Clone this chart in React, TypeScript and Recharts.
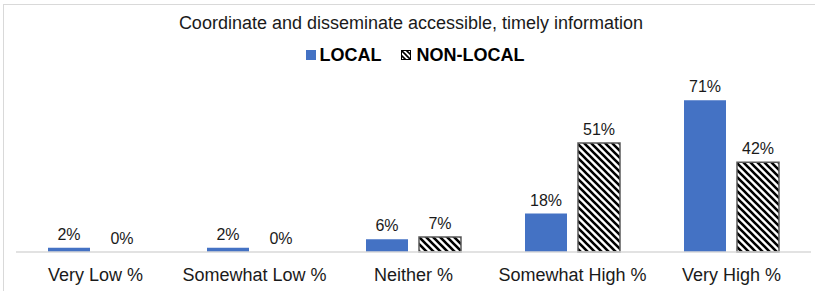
import React from "react";
import { BarChart, Bar, XAxis, YAxis, Legend, LabelList, Cell } from "recharts";

const categories = ["Very Low %", "Somewhat Low %", "Neither %", "Somewhat High %", "Very High %"];
const localValues = [2, 2, 6, 18, 71];
const nonLocalValues = [0, 0, 7, 51, 42];
const seriesNames = ["LOCAL", "NON-LOCAL"];
const title = "Coordinate and disseminate accessible, timely information";

const data = categories.map((c, i) => ({
  name: c,
  local: localValues[i],
  nonLocal: nonLocalValues[i],
}));

const FONT = "'Liberation Sans', Arial, sans-serif";
const BLUE = "#4472C4";

const HatchIcon = () => (
  <svg width={10} height={10} style={{ display: "block" }}>
    <defs>
      <pattern id="hatchIcon" patternUnits="userSpaceOnUse" width={5} height={5}>
        <rect width={5} height={5} fill="#fff" />
        <path d="M-1,-1 L6,6 M-1,4 L1,6 M4,-1 L6,1" stroke="#000" strokeWidth={1.6} />
      </pattern>
    </defs>
    <rect x={0.5} y={0.5} width={9} height={9} fill="url(#hatchIcon)" stroke="#000" strokeWidth={1} />
  </svg>
);

const LegendContent = () => (
  <div style={{ position: "relative", width: 815, height: 81, fontFamily: FONT }}>
    <div
      style={{
        position: "absolute",
        left: 0,
        top: 12,
        width: 822,
        textAlign: "center",
        fontSize: 18,
        lineHeight: "22px",
        color: "#1a1a1a",
      }}
    >
      {title}
    </div>
    <div
      style={{
        position: "absolute",
        left: 0,
        top: 44,
        width: 830,
        height: 22,
        display: "flex",
        justifyContent: "center",
        alignItems: "center",
        fontSize: 18,
        fontWeight: "bold",
        color: "#000",
      }}
    >
      <div style={{ width: 10, height: 10, background: BLUE, marginRight: 4 }} />
      <span style={{ marginRight: 19 }}>{seriesNames[0]}</span>
      <div style={{ marginRight: 6 }}>
        <HatchIcon />
      </div>
      <span>{seriesNames[1]}</span>
    </div>
  </div>
);

const fmt = (v: any) => `${v}%`;

export default function App() {
  return (
    <div style={{ position: "absolute", left: 0, top: 0, width: 815, height: 291, background: "#fff" }}>
      <div
        style={{
          position: "absolute",
          left: 3,
          top: 4,
          width: 812,
          height: 287,
          borderTop: "1.5px solid #d9d9d9",
          borderLeft: "1.5px solid #d9d9d9",
          boxSizing: "border-box",
        }}
      />
      <BarChart
        width={815}
        height={291}
        data={data}
        margin={{ top: 0, right: 4, bottom: 0, left: 16 }}
        barSize={42}
        barGap={11}
        style={{ position: "absolute", left: 0, top: 0 }}
      >
        <defs>
          <pattern id="hatch" patternUnits="userSpaceOnUse" width={7} height={7}>
            <rect width={7} height={7} fill="#fff" />
            <path d="M-1,-1 L8,8 M-1,6 L1,8 M6,-1 L8,1" stroke="#000" strokeWidth={2.6} />
          </pattern>
        </defs>
        <Legend verticalAlign="top" content={<LegendContent />} wrapperStyle={{ top: 0, left: 0, width: 815, height: 81 }} />
        <XAxis
          dataKey="name"
          axisLine={{ stroke: "#d9d9d9", strokeWidth: 1.5 }}
          tickLine={false}
          height={39}
          tickMargin={10}
          interval={0}
          tick={{ fontSize: 18, fill: "#1a1a1a", fontFamily: FONT }}
        />
        <YAxis hide domain={[0, 80]} width={0} />
        <Bar
          dataKey="local"
          name={seriesNames[0]}
          fill={BLUE}
          isAnimationActive={false}
          minPointSize={(v: any) => (v === 0 ? 0.01 : 0)}
        >
          {localValues.map((v, i) => (
            <Cell key={i} fill={v === 0 ? "none" : BLUE} />
          ))}
          <LabelList
            dataKey="local"
            position="top"
            offset={8}
            formatter={fmt}
            style={{ fontSize: 16, fill: "#1a1a1a", fontFamily: FONT }}
          />
        </Bar>
        <Bar
          dataKey="nonLocal"
          name={seriesNames[1]}
          fill="url(#hatch)"
          stroke="#595959"
          strokeWidth={1.5}
          isAnimationActive={false}
          minPointSize={(v: any) => (v === 0 ? 0.01 : 0)}
        >
          {nonLocalValues.map((v, i) => (
            <Cell
              key={i}
              fill={v === 0 ? "none" : "url(#hatch)"}
              stroke={v === 0 ? "none" : "#595959"}
            />
          ))}
          <LabelList
            dataKey="nonLocal"
            position="top"
            offset={8}
            formatter={fmt}
            style={{ fontSize: 16, fill: "#1a1a1a", fontFamily: FONT }}
          />
        </Bar>
      </BarChart>
    </div>
  );
}
